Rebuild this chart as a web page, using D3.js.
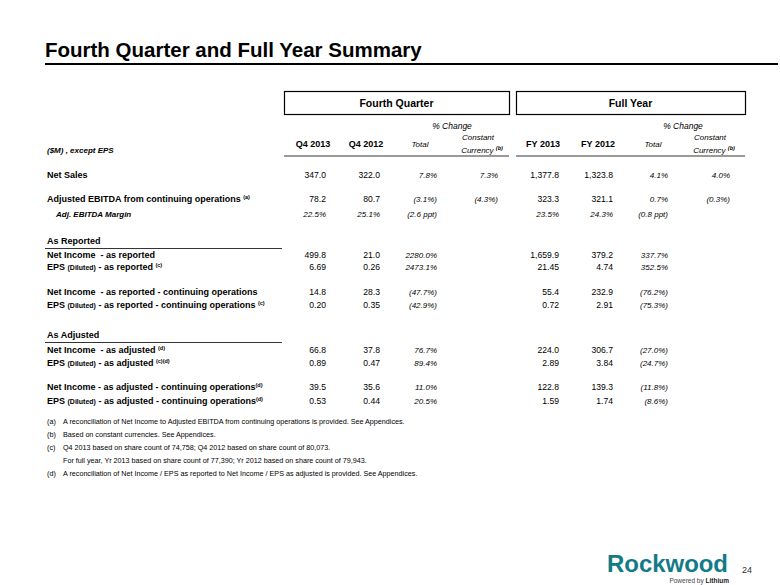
<!DOCTYPE html>
<html><head><meta charset="utf-8">
<script src="https://cdn.jsdelivr.net/npm/d3@7"></script>
<style>
body{margin:0;background:#fff}
svg{display:block}
text{font-family:"Liberation Sans",Arial,Helvetica,sans-serif;fill:#000}
</style>
</head><body>
<svg id="chart" width="780" height="585"></svg>
<script>
// ---------------- DATA ----------------
const title = "Fourth Quarter and Full Year Summary";
const groupHeaders = ["Fourth Quarter", "Full Year"];
const changeHeader = "% Change";
const unitLabel = "($M) , except EPS";
const columnKeys = ["q4_2013", "q4_2012", "q4_total", "q4_cc", "fy_2013", "fy_2012", "fy_total", "fy_cc"];
const columnHeaders = ["Q4 2013", "Q4 2012", "Total", "Constant|Currency ^(b)", "FY 2013", "FY 2012", "Total", "Constant|Currency ^(b)"];
const rowLabels = [
  "Net Sales",
  "Adjusted EBITDA from continuing operations ^(a)",
  "Adj. EBITDA Margin",
  "As Reported",
  "Net Income  - as reported",
  "EPS (Diluted) - as reported ^(c)",
  "Net Income  - as reported - continuing operations",
  "EPS (Diluted) - as reported - continuing operations ^(c)",
  "As Adjusted",
  "Net Income  - as adjusted ^(d)",
  "EPS (Diluted) - as adjusted ^(c)(d)",
  "Net Income - as adjusted - continuing operations^(d)",
  "EPS (Diluted) - as adjusted - continuing operations^(d)"
];
const rowKinds = ["m", "m", "margin", "section", "m", "eps", "m", "eps", "section", "m", "eps", "m", "eps"];
const q4_2013  = [347.0, 78.2, 22.5, null, 499.8, 6.69, 14.8, 0.20, null, 66.8, 0.89, 39.5, 0.53];
const q4_2012  = [322.0, 80.7, 25.1, null, 21.0, 0.26, 28.3, 0.35, null, 37.8, 0.47, 35.6, 0.44];
const q4_total = [7.8, -3.1, -2.6, null, 2280.0, 2473.1, -47.7, -42.9, null, 76.7, 89.4, 11.0, 20.5];
const q4_cc    = [7.3, -4.3, null, null, null, null, null, null, null, null, null, null, null];
const fy_2013  = [1377.8, 323.3, 23.5, null, 1659.9, 21.45, 55.4, 0.72, null, 224.0, 2.89, 122.8, 1.59];
const fy_2012  = [1323.8, 321.1, 24.3, null, 379.2, 4.74, 232.9, 2.91, null, 306.7, 3.84, 139.3, 1.74];
const fy_total = [4.1, 0.7, -0.8, null, 337.7, 352.5, -76.2, -75.3, null, -27.0, -24.7, -11.8, -8.6];
const fy_cc    = [4.0, -0.3, null, null, null, null, null, null, null, null, null, null, null];
const footnoteMarks = ["(a)", "(b)", "(c)", "", "(d)"];
const footnotes = [
  "A reconciliation of Net Income to Adjusted EBITDA from continuing operations is provided. See Appendices.",
  "Based on constant currencies. See Appendices.",
  "Q4 2013 based on share count of 74,758; Q4 2012 based on share count of 80,073.",
  "For full year, Yr 2013 based on share count of 77,390; Yr 2012 based on share count of 79,943.",
  "A reconciliation of Net Income / EPS as reported to Net Income / EPS as adjusted is provided. See Appendices."
];
const logoName = "Rockwood";
const logoTag = ["Powered by ", "Lithium"];
const pageNumber = "24";

// ---------------- LAYOUT ----------------
const svg = d3.select("#chart");
const columns = {q4_2013, q4_2012, q4_total, q4_cc, fy_2013, fy_2012, fy_total, fy_cc};
const changeCols = new Set(["q4_total", "q4_cc", "fy_total", "fy_cc"]);

const xRight = d3.scaleOrdinal().domain(columnKeys).range([326, 380, 437, 498, 559, 613, 668, 730]);
const xHead = d3.scaleOrdinal().domain(columnKeys).range([313, 366, 420, 478, 543, 598, 653, 710]);
const rowIdx = d3.range(rowLabels.length);
const yRow = d3.scaleOrdinal().domain(rowIdx).range([175, 199, 214, 241, 255, 267, 292, 305, 335, 350, 363, 387, 401]);
const yFoot = d3.scaleBand().domain(d3.range(footnotes.length)).range([415, 480]);

const fM = d3.format(",.1f"), fE = d3.format(".2f"), fP = d3.format(".1f");
function fmtValue(v, kind, key) {
  if (v == null) return "";
  if (changeCols.has(key)) {
    if (kind === "margin") return v < 0 ? "(" + fP(-v) + " ppt)" : fP(v) + " ppt";
    return v < 0 ? "(" + fP(-v) + "%)" : fP(v) + "%";
  }
  if (kind === "margin") return fP(v) + "%";
  if (kind === "eps") return fE(v);
  return fM(v);
}

// Title
svg.append("text").attr("x", 45).attr("y", 57)
  .attr("font-size", 20.5).attr("font-weight", "bold").text(title);
svg.append("line").attr("x1", 45).attr("x2", 778).attr("y1", 64).attr("y2", 64)
  .attr("stroke", "#000").attr("stroke-width", 2);

// Group header boxes
const boxes = [{x0: 284, x1: 509}, {x0: 516, x1: 745}];
svg.selectAll("rect.grp").data(groupHeaders).join("rect").attr("class", "grp")
  .attr("x", (d, i) => boxes[i].x0 + 0.5).attr("y", 91.5)
  .attr("width", (d, i) => boxes[i].x1 - boxes[i].x0).attr("height", 23)
  .attr("fill", "#fff").attr("stroke", "#000").attr("stroke-width", 1.2);
svg.selectAll("text.grp").data(groupHeaders).join("text").attr("class", "grp")
  .attr("x", (d, i) => (boxes[i].x0 + boxes[i].x1) / 2).attr("y", 107)
  .attr("text-anchor", "middle").attr("font-size", 10.5).attr("font-weight", "bold").text(d => d);

// % Change
svg.selectAll("text.chg").data([xHead("q4_total") + 32, xHead("fy_total") + 30]).join("text").attr("class", "chg")
  .attr("x", d => d).attr("y", 129).attr("text-anchor", "middle")
  .attr("font-size", 8.5).attr("font-style", "italic").text(changeHeader);

// header underline
svg.selectAll("line.hd").data(boxes).join("line").attr("class", "hd")
  .attr("x1", d => d.x0).attr("x2", d => d.x1).attr("y1", 156).attr("y2", 156)
  .attr("stroke", "#000").attr("stroke-width", 0.8);

// unit label
svg.append("text").attr("x", 47).attr("y", 153).attr("font-size", 8)
  .attr("font-weight", "bold").attr("font-style", "italic").text(unitLabel);

// Column headers
columnKeys.forEach((k, i) => {
  const h = columnHeaders[i];
  if (h.includes("|")) {
    const [l1, l2] = h.split("|");
    const [w, sup] = l2.split("^");
    svg.append("text").attr("x", xHead(k)).attr("y", 140).attr("text-anchor", "middle")
      .attr("font-size", 8).attr("font-style", "italic").text(l1);
    const t = svg.append("text").attr("x", xHead(k) + 4).attr("y", 153).attr("text-anchor", "middle")
      .attr("font-size", 8).attr("font-style", "italic");
    t.append("tspan").text(w);
    t.append("tspan").attr("font-size", 5.5).attr("dy", -3).attr("font-weight", "bold").text(sup);
  } else {
    const italic = changeCols.has(k);
    svg.append("text").attr("x", xHead(k)).attr("y", 147).attr("text-anchor", "middle")
      .attr("font-size", italic ? 8 : 9).attr("font-weight", italic ? "normal" : "bold")
      .attr("font-style", italic ? "italic" : "normal").text(h);
  }
});

// Row labels
function segs(label) {
  const [main, sup] = label.split("^");
  const out = [];
  main.split(/(\(Diluted\))/).forEach(p => { if (p) out.push({t: p, k: p === "(Diluted)" ? "small" : "n"}); });
  if (sup) out.push({t: sup, k: "sup"});
  return out;
}
const labelG = svg.append("g");
rowIdx.forEach(i => {
  const kind = rowKinds[i];
  const t = labelG.append("text")
    .attr("x", kind === "margin" ? 56 : 47).attr("y", yRow(i) + 3.3)
    .attr("font-weight", "bold").attr("font-size", kind === "margin" ? 8 : 9)
    .attr("font-style", kind === "margin" ? "italic" : "normal")
    .style("white-space", "pre");
  segs(rowLabels[i]).forEach(s => {
    const ts = t.append("tspan").text(s.t);
    if (s.k === "small") ts.attr("font-size", 7);
    if (s.k === "sup") ts.attr("font-size", 5.5).attr("dy", -3.5);
  });
  if (kind === "section") {
    labelG.append("line").attr("x1", 45).attr("x2", 282)
      .attr("y1", yRow(i) + 7.5).attr("y2", yRow(i) + 7.5)
      .attr("stroke", "#000").attr("stroke-width", 0.8);
  }
});

// Values
const cells = [];
columnKeys.forEach(k => rowIdx.forEach(i => {
  const s = fmtValue(columns[k][i], rowKinds[i], k);
  if (s) cells.push({k, i, s, italic: changeCols.has(k) || rowKinds[i] === "margin"});
}));
svg.append("g").selectAll("text").data(cells).join("text")
  .attr("x", d => xRight(d.k)).attr("y", d => yRow(d.i) + 3.2)
  .attr("text-anchor", "end")
  .attr("font-size", d => d.italic ? 8 : 8.6)
  .attr("font-style", d => d.italic ? "italic" : "normal")
  .text(d => d.s);

// Footnotes
const fg = svg.append("g");
fg.selectAll("text.mk").data(footnoteMarks).join("text").attr("class", "mk")
  .attr("x", 47).attr("y", (d, i) => yFoot(i) + 9).attr("font-size", 7.2).text(d => d);
fg.selectAll("text.ft").data(footnotes).join("text").attr("class", "ft")
  .attr("x", 63).attr("y", (d, i) => yFoot(i) + 9).attr("font-size", 7.2).text(d => d);

// Logo
svg.append("text").attr("x", 607).attr("y", 572).attr("font-size", 24.5).attr("font-weight", "bold")
  .attr("textLength", 121).attr("lengthAdjust", "spacingAndGlyphs")
  .style("fill", "#137b87").text(logoName);
const tag = svg.append("text").attr("x", 729).attr("y", 583).attr("text-anchor", "end").attr("font-size", 6.5);
tag.append("tspan").style("fill", "#444").text(logoTag[0]);
tag.append("tspan").style("fill", "#222").attr("font-weight", "bold").text(logoTag[1]);
svg.append("text").attr("x", 742).attr("y", 573).attr("font-size", 9)
  .attr("font-family", '"Liberation Serif","DejaVu Serif",serif').style("fill", "#333").text(pageNumber);
</script>
</body></html>
